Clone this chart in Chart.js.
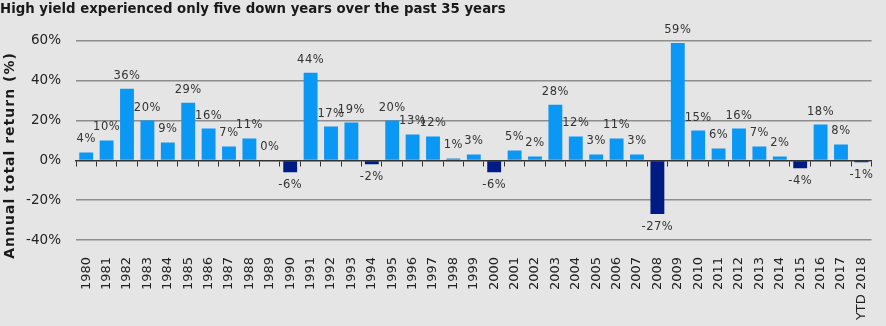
<!DOCTYPE html>
<html>
<head>
<meta charset="utf-8">
<script src="https://cdn.jsdelivr.net/npm/chart.js@4/dist/chart.umd.min.js"></script>
<style>
  html, body { margin: 0; padding: 0; background: #e5e5e5; }
  #wrap { width: 886px; height: 326px; }
</style>
</head>
<body>
<div id="wrap"><canvas id="chart"></canvas></div>
<script>
// Chart data
const years = ['1980', '1981', '1982', '1983', '1984', '1985', '1986', '1987', '1988', '1989',
  '1990', '1991', '1992', '1993', '1994', '1995', '1996', '1997', '1998', '1999',
  '2000', '2001', '2002', '2003', '2004', '2005', '2006', '2007', '2008', '2009',
  '2010', '2011', '2012', '2013', '2014', '2015', '2016', '2017', 'YTD 2018'];
const returns = [4, 10, 36, 20, 9, 29, 16, 7, 11, 0,
  -6, 44, 17, 19, -2, 20, 13, 12, 1, 3,
  -6, 5, 2, 28, 12, 3, 11, 3, -27, 59,
  15, 6, 16, 7, 2, -4, 18, 8, -1];
const yTicks = [-40, -20, 0, 20, 40, 60];
const yTitle = 'Annual total return (%)';

const upColor = '#0b97f4';
const downColor = '#001c82';

// Draws the value above (or below) every bar
const valueLabels = {
  id: 'valueLabels',
  afterDatasetsDraw(chart) {
    const ctx = chart.ctx;
    const meta = chart.getDatasetMeta(0);
    ctx.save();
    ctx.font = '11.5px "DejaVu Sans"';
    ctx.letterSpacing = '0.5px';
    ctx.fillStyle = '#333';
    ctx.textAlign = 'center';
    ctx.textBaseline = 'middle';
    meta.data.forEach((bar, i) => {
      const v = returns[i];
      const y = v < 0 ? bar.y + 13 : bar.y - 13;
      ctx.fillText(v + '%', bar.x, y);
    });
    ctx.restore();
  }
};

// Vertical axis title, a little lower than the chart area centre like the original
const axisTitle = {
  id: 'axisTitle',
  afterDraw(chart) {
    const ctx = chart.ctx;
    const area = chart.chartArea;
    ctx.save();
    ctx.translate(10, (area.top + area.bottom) / 2 + 15);
    ctx.rotate(-Math.PI / 2);
    ctx.font = 'bold 14px "DejaVu Sans"';
    ctx.letterSpacing = '1px';
    ctx.fillStyle = '#1a1a1a';
    ctx.textAlign = 'center';
    ctx.textBaseline = 'middle';
    ctx.fillText(yTitle, 0, 0);
    ctx.restore();
  }
};

new Chart(document.getElementById('chart'), {
  type: 'bar',
  data: {
    labels: years,
    datasets: [{
      data: returns,
      xAxisID: 'x',
      backgroundColor: returns.map(v => v < 0 ? downColor : upColor),
      categoryPercentage: 0.68,
      barPercentage: 1
    }]
  },
  options: {
    responsive: true,
    maintainAspectRatio: false,
    animation: false,
    layout: { padding: { right: 2 } },
    plugins: {
      legend: { display: false },
      tooltip: { enabled: false },
      title: {
        display: true,
        text: 'High yield experienced only five down years over the past 35 years',
        align: 'start',
        color: '#1a1a1a',
        font: { family: 'DejaVu Sans', size: 13.3, weight: 'bold' },
        padding: { top: 2, bottom: 23 }
      }
    },
    scales: {
      x: {
        position: 'bottom',
        grid: { display: false },
        border: { display: false },
        ticks: {
          color: '#222',
          font: { family: 'DejaVu Sans', size: 13 },
          minRotation: 90,
          maxRotation: 90,
          padding: 9,
          autoSkip: false
        },
        afterFit(scale) { scale.height = 86; }
      },
      x2: {
        type: 'category',
        position: { y: 0 },
        offset: true,
        grid: { drawOnChartArea: false, drawTicks: true, tickLength: 5, color: '#333', offset: true },
        border: { display: true, color: '#333', width: 1.5 },
        ticks: { display: false }
      },
      y: {
        min: -40,
        max: 60,
        afterBuildTicks(scale) { scale.ticks = yTicks.map(v => ({ value: v })); },
        grid: {
          drawTicks: false,
          color: ctx => ctx.tick && ctx.tick.value === 0 ? 'rgba(0,0,0,0)' : '#8e8e8e',
          lineWidth: 1.5
        },
        border: { display: false },
        ticks: {
          color: '#222',
          font: { family: 'DejaVu Sans', size: 13.5 },
          padding: 15,
          callback: v => v + '%'
        },
        afterFit(scale) { scale.width = 76; }
      }
    }
  },
  plugins: [valueLabels, axisTitle]
});
</script>
</body>
</html>
